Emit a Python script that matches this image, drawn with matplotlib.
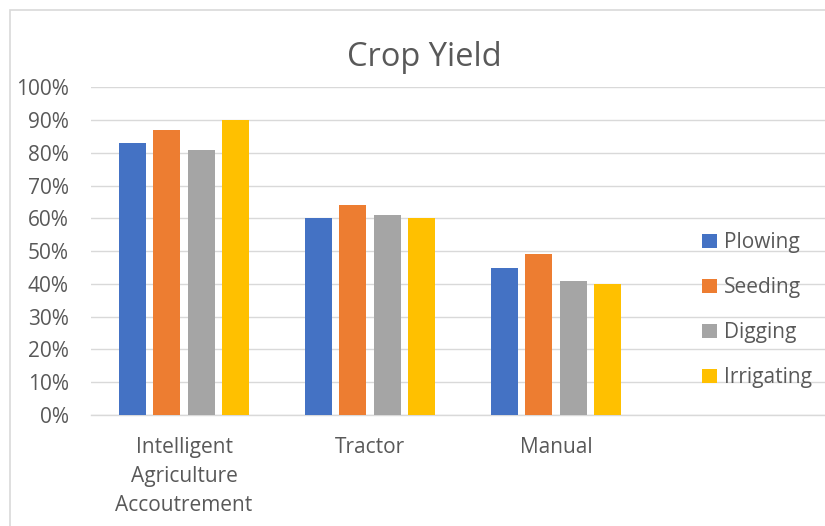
import numpy as np
import matplotlib
matplotlib.use('Agg')
import matplotlib.pyplot as plt
from matplotlib.patches import Rectangle
from matplotlib.ticker import PercentFormatter

plt.rcParams['font.family'] = ['Open Sans', 'DejaVu Sans']

categories = ['Intelligent\nAgriculture\nAccoutrement', 'Tractor', 'Manual']
series = ['Plowing', 'Seeding', 'Digging', 'Irrigating']
plowing = [0.83, 0.60, 0.45]
seeding = [0.87, 0.64, 0.49]
digging = [0.81, 0.61, 0.41]
irrigating = [0.90, 0.60, 0.40]
colors = ['#4472C4', '#ED7D31', '#A5A5A5', '#FFC000']

text_col = '#595959'
grid_col = '#D9D9D9'

fig = plt.figure(figsize=(8.25, 5.26), dpi=100)
W, H = 825, 526

# chart frame
fig.patches.append(Rectangle((10 / W, -0.1), 1.1, 1 - 10 / H + 0.1,
                             transform=fig.transFigure, fill=False,
                             edgecolor=grid_col, linewidth=1.2))

ax = fig.add_axes([91 / W, 111 / H, (W - 91) / W, (415 - 87.3) / H])

x = np.arange(len(categories))
pitch = 0.183
width = 0.145
for i, (name, vals) in enumerate(zip(series, [plowing, seeding, digging, irrigating])):
    ax.bar(x + (i - 1.5) * pitch, vals, width, color=colors[i], label=name, zorder=3)

ax.set_xlim(-0.5, -0.5 + (W - 91) / 186)
ax.set_ylim(0, 1)
ax.set_yticks(np.arange(0, 1.01, 0.1))
ax.yaxis.set_major_formatter(PercentFormatter(1.0, decimals=0))
ax.grid(axis='y', color=grid_col, linewidth=1.0, zorder=0)
for s in ['top', 'right', 'left']:
    ax.spines[s].set_visible(False)
ax.spines['bottom'].set_color(grid_col)
ax.spines['bottom'].set_linewidth(1.0)
ax.set_xticks(x)
ax.set_xticklabels(categories, linespacing=1.5)
ax.tick_params(axis='both', length=0, labelsize=15, labelcolor=text_col)
ax.tick_params(axis='y', pad=16)
ax.tick_params(axis='x', pad=16)

fig.text(424 / W, 1 - 57 / H, 'Crop Yield', ha='center', va='center',
         fontsize=23.5, color=text_col)

leg = ax.legend(loc='upper left', bbox_to_anchor=(692 / W, 1 - 222 / H),
                bbox_transform=fig.transFigure, frameon=False, fontsize=15,
                handlelength=0.7, handleheight=0.7, handletextpad=0.35,
                labelspacing=1.15, borderpad=0)
for t in leg.get_texts():
    t.set_color(text_col)

fig.savefig('out.png', dpi=100)
